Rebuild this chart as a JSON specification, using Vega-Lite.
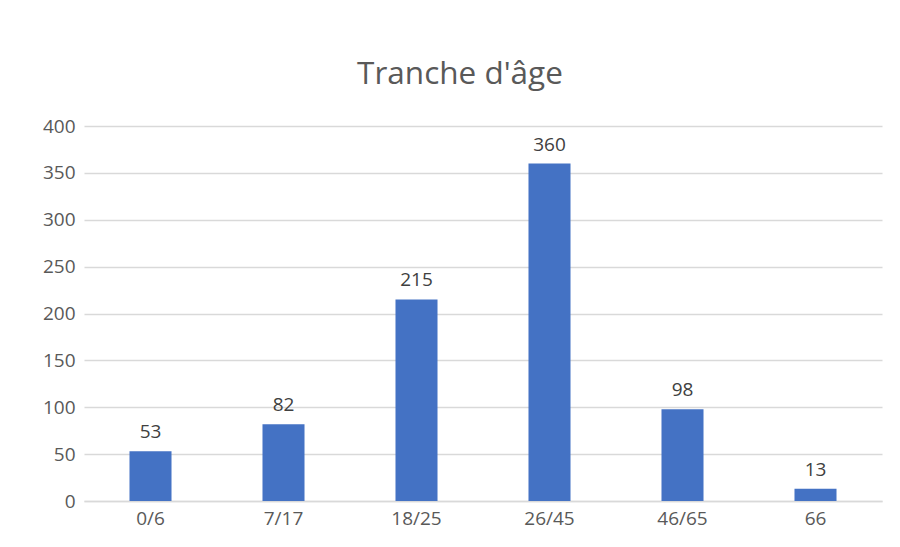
{
  "$schema": "https://vega.github.io/schema/vega-lite/v6.json",
  "width": 798,
  "height": 375,
  "autosize": {"type": "none"},
  "padding": {"left": 84, "top": 126, "right": 18, "bottom": 46},
  "background": "white",
  "title": {
    "text": "Tranche d'âge",
    "anchor": "middle",
    "dx": -23,
    "offset": 2,
    "baseline": "alphabetic",
    "font": "Open Sans",
    "fontSize": 31.5,
    "fontWeight": "normal",
    "color": "#595959"
  },
  "data": {
    "values": [
      {"tranche": "0/6", "n": 53},
      {"tranche": "7/17", "n": 82},
      {"tranche": "18/25", "n": 215},
      {"tranche": "26/45", "n": 360},
      {"tranche": "46/65", "n": 98},
      {"tranche": "66", "n": 13}
    ]
  },
  "encoding": {
    "x": {
      "field": "tranche",
      "type": "nominal",
      "sort": null,
      "scale": {"paddingInner": 0.684, "paddingOuter": 0.342},
      "axis": {
        "title": null,
        "labelAngle": 0,
        "ticks": false,
        "domain": true,
        "domainColor": "#d9d9d9",
        "domainWidth": 1.5,
        "labelFont": "Open Sans",
        "labelFontSize": 19,
        "labelColor": "#595959",
        "labelPadding": 8
      }
    },
    "y": {
      "field": "n",
      "type": "quantitative",
      "scale": {"domain": [0, 400]},
      "axis": {
        "title": null,
        "values": [0, 50, 100, 150, 200, 250, 300, 350, 400],
        "ticks": false,
        "domain": false,
        "gridColor": "#d9d9d9",
        "gridWidth": 1.5,
        "labelFont": "Open Sans",
        "labelFontSize": 19,
        "labelColor": "#595959",
        "labelPadding": 9
      }
    }
  },
  "layer": [
    {"mark": {"type": "bar", "color": "#4472C4"}},
    {
      "mark": {
        "type": "text",
        "baseline": "alphabetic",
        "dy": -13,
        "font": "Open Sans",
        "fontSize": 19,
        "color": "#404040"
      },
      "encoding": {"text": {"field": "n", "type": "quantitative"}}
    }
  ],
  "config": {"view": {"stroke": null}}
}
